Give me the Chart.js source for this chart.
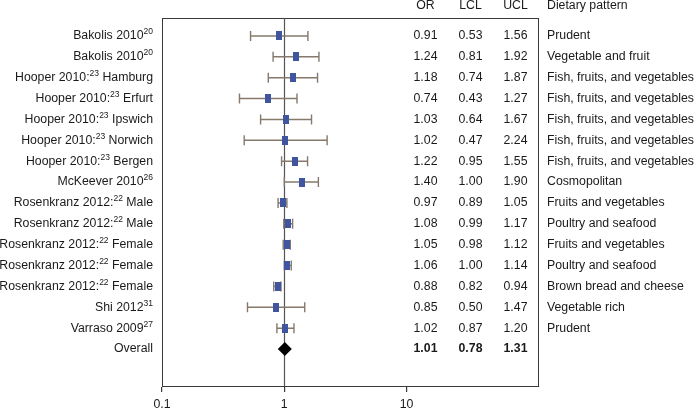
<!DOCTYPE html>
<html>
<head>
<meta charset="utf-8">
<script src="https://cdn.jsdelivr.net/npm/chart.js@4"></script>
<style>
  body { margin: 0; background: #fff; }
  .wrap { width: 694px; height: 409px; position: relative; }
</style>
</head>
<body>
<div class="wrap"><canvas id="forest"></canvas></div>
<script>
const studyNames = ['Bakolis 2010', 'Bakolis 2010', 'Hooper 2010:', 'Hooper 2010:', 'Hooper 2010:', 'Hooper 2010:', 'Hooper 2010:', 'McKeever 2010', 'Rosenkranz 2012:', 'Rosenkranz 2012:', 'Rosenkranz 2012:', 'Rosenkranz 2012:', 'Rosenkranz 2012:', 'Shi 2012', 'Varraso 2009', 'Overall'];
const refNums = ['20', '20', '23', '23', '23', '23', '23', '26', '22', '22', '22', '22', '22', '31', '27', ''];
const subgroups = ['', '', ' Hamburg', ' Erfurt', ' Ipswich', ' Norwich', ' Bergen', '', ' Male', ' Male', ' Female', ' Female', ' Female', '', '', ''];
const oddsRatio = [0.91, 1.24, 1.18, 0.74, 1.03, 1.02, 1.22, 1.40, 0.97, 1.08, 1.05, 1.06, 0.88, 0.85, 1.02, 1.01];
const lowerCL = [0.53, 0.81, 0.74, 0.43, 0.64, 0.47, 0.95, 1.00, 0.89, 0.99, 0.98, 1.00, 0.82, 0.50, 0.87, 0.78];
const upperCL = [1.56, 1.92, 1.87, 1.27, 1.67, 2.24, 1.55, 1.90, 1.05, 1.17, 1.12, 1.14, 0.94, 1.47, 1.20, 1.31];
const patterns = ['Prudent', 'Vegetable and fruit', 'Fish, fruits, and vegetables', 'Fish, fruits, and vegetables', 'Fish, fruits, and vegetables', 'Fish, fruits, and vegetables', 'Fish, fruits, and vegetables', 'Cosmopolitan', 'Fruits and vegetables', 'Poultry and seafood', 'Fruits and vegetables', 'Poultry and seafood', 'Brown bread and cheese', 'Vegetable rich', 'Prudent', ''];
const xTicks = [0.1, 1, 10];
const columnHeads = ['OR', 'LCL', 'UCL', 'Dietary pattern'];

const FONT = 'Liberation Sans, Arial, sans-serif';
const FS = 12.3;
const SUP = 8.5;
const overallIdx = studyNames.length - 1;

// small blue box used as marker
const marker = document.createElement('canvas');
marker.width = 6;
marker.height = 9;
(() => {
    const c = marker.getContext('2d');
    c.fillStyle = '#3f55a0';
    c.fillRect(0, 0, 6, 9);
})();

const studyPoints = oddsRatio.slice(0, overallIdx).map((v, i) => ({ x: v, y: i }));
const overallPoint = [{ x: oddsRatio[overallIdx], y: overallIdx }];

const forestPlugin = {
    id: 'forest',
    beforeDatasetsDraw(chart) {
        const { ctx, chartArea: a, scales: { x, y } } = chart;
        ctx.save();
        // box
        ctx.strokeStyle = '#3a3a3a';
        ctx.lineWidth = 1;
        ctx.strokeRect(a.left + 0.5, a.top + 0.5, a.right - a.left - 1, a.bottom - a.top);
        // line of no effect
        const x1 = Math.round(x.getPixelForValue(1)) + 0.5;
        ctx.strokeStyle = '#555';
        ctx.lineWidth = 1.2;
        ctx.beginPath();
        ctx.moveTo(x1, a.top);
        ctx.lineTo(x1, a.bottom);
        ctx.stroke();
        // confidence intervals
        ctx.strokeStyle = '#85796c';
        ctx.lineWidth = 1.4;
        for (let i = 0; i < overallIdx; i++) {
            const py = y.getPixelForValue(i);
            const lo = x.getPixelForValue(lowerCL[i]);
            const hi = x.getPixelForValue(upperCL[i]);
            ctx.beginPath();
            ctx.moveTo(lo, py);
            ctx.lineTo(hi, py);
            ctx.moveTo(lo, py - 5);
            ctx.lineTo(lo, py + 5);
            ctx.moveTo(hi, py - 5);
            ctx.lineTo(hi, py + 5);
            ctx.stroke();
        }
        ctx.restore();
    },
    afterDraw(chart) {
        const { ctx, scales: { y } } = chart;
        ctx.save();
        ctx.fillStyle = '#1a1a1a';
        ctx.textBaseline = 'middle';
        const colX = [425.5, 470.5, 515.5];
        ctx.font = FS + 'px ' + FONT;
        ctx.textAlign = 'center';
        columnHeads.slice(0, 3).forEach((h, j) => ctx.fillText(h, colX[j], 6));
        ctx.textAlign = 'left';
        ctx.fillText(columnHeads[3], 547, 6);

        for (let i = 0; i < studyNames.length; i++) {
            const py = y.getPixelForValue(i);
            const bold = i === overallIdx;
            // left label with superscript reference
            ctx.textAlign = 'left';
            ctx.font = FS + 'px ' + FONT;
            const wMain = ctx.measureText(studyNames[i]).width;
            const wTail = ctx.measureText(subgroups[i]).width;
            ctx.font = SUP + 'px ' + FONT;
            const wSup = refNums[i] ? ctx.measureText(refNums[i]).width : 0;
            let sx = 153 - (wMain + wSup + wTail);
            ctx.font = FS + 'px ' + FONT;
            ctx.fillText(studyNames[i], sx, py);
            sx += wMain;
            if (refNums[i]) {
                ctx.font = SUP + 'px ' + FONT;
                ctx.fillText(refNums[i], sx, py - 4);
                sx += wSup;
            }
            ctx.font = FS + 'px ' + FONT;
            ctx.fillText(subgroups[i], sx, py);

            // table columns
            ctx.font = (bold ? 'bold ' : '') + FS + 'px ' + FONT;
            ctx.textAlign = 'center';
            [oddsRatio[i], lowerCL[i], upperCL[i]].forEach((v, j) => ctx.fillText(v.toFixed(2), colX[j], py));
            ctx.textAlign = 'left';
            ctx.font = FS + 'px ' + FONT;
            ctx.fillText(patterns[i], 547, py);
        }
        ctx.restore();
    }
};

new Chart(document.getElementById('forest'), {
    type: 'scatter',
    data: {
        datasets: [{
            data: studyPoints,
            pointStyle: marker,
            pointRadius: 5,
        }, {
            data: overallPoint,
            pointStyle: 'rectRot',
            pointRadius: 7,
            backgroundColor: '#000',
            borderColor: '#000',
            borderWidth: 0,
        }]
    },
    options: {
        responsive: true,
        maintainAspectRatio: false,
        animation: false,
        layout: { padding: { left: 162, right: 155, top: 18, bottom: 0 } },
        plugins: { legend: { display: false }, tooltip: { enabled: false } },
        scales: {
            x: {
                type: 'logarithmic',
                min: 0.1,
                max: 121,
                afterBuildTicks: (scale) => { scale.ticks = xTicks.map(v => ({ value: v })); },
                afterFit: (scale) => { scale.height = 23; },
                ticks: {
                    autoSkip: false,
                    maxRotation: 0,
                    padding: 5,
                    color: '#1a1a1a',
                    font: { family: FONT, size: FS },
                    callback: (v) => String(v),
                },
                grid: { drawOnChartArea: false, tickLength: 6, color: '#3a3a3a', lineWidth: 1.2 },
                border: { display: true, color: '#3a3a3a', width: 1 },
            },
            y: {
                type: 'linear',
                reverse: true,
                min: -0.86,
                max: 16.77,
                display: false,
            }
        }
    },
    plugins: [forestPlugin]
});
</script>
</body>
</html>
